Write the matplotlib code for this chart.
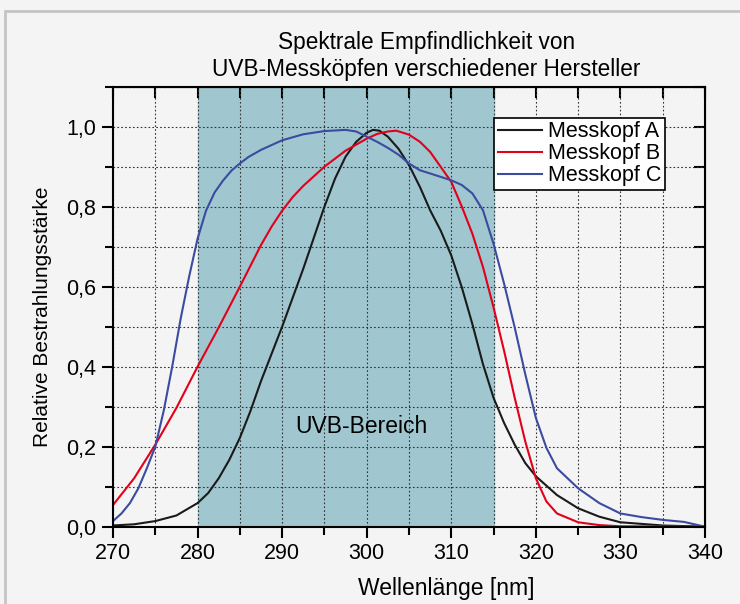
import numpy as np
import matplotlib.pyplot as plt
from matplotlib.ticker import MultipleLocator, FuncFormatter
from matplotlib.patches import Rectangle

plt.rcParams['font.family'] = ['Liberation Sans', 'DejaVu Sans']

# Messkopf A (schwarz)
wl_a = [270, 272.5, 275, 277.5, 280, 281.25, 282.5, 283.75, 285, 286.25, 287.5,
        290, 292.5, 295, 296.25, 297.5, 298.75, 300, 300.75, 301.5, 302.5, 303.75, 305,
        306.3, 307.5, 308.75, 310, 311.25, 312.5, 313.75, 315, 316.25, 317.5, 318.75,
        320, 322.5, 325, 327.5, 330, 335, 340]
kopf_a = [0.003, 0.006, 0.014, 0.028, 0.059, 0.084, 0.121, 0.167, 0.222, 0.289, 0.364,
          0.50, 0.645, 0.80, 0.87, 0.925, 0.962, 0.985, 0.992, 0.99, 0.975, 0.945, 0.904,
          0.849, 0.791, 0.74, 0.678, 0.598, 0.506, 0.406, 0.322, 0.259, 0.205, 0.159,
          0.126, 0.079, 0.046, 0.025, 0.011, 0.003, 0.0]

# Messkopf B (rot)
wl_b = [270, 272.5, 275, 277.5, 280, 282.5, 285, 287.5, 288.75, 290, 291.25, 292.5,
        295, 297.5, 300, 301.25, 302.5, 303.5, 305, 306.3, 307.5, 310, 311.25, 312.5,
        313.75, 315, 316.25, 317.5, 318.75, 320, 321.25, 322.5, 325, 327.5, 330, 340]
kopf_b = [0.054, 0.121, 0.205, 0.297, 0.40, 0.498, 0.60, 0.704, 0.75, 0.79, 0.824, 0.852,
          0.90, 0.94, 0.97, 0.982, 0.988, 0.99, 0.98, 0.962, 0.937, 0.862, 0.80, 0.732,
          0.649, 0.548, 0.439, 0.322, 0.213, 0.121, 0.063, 0.033, 0.011, 0.004, 0.001, 0.0]

# Messkopf C (blau)
wl_c = [270, 271, 272, 273, 274, 275, 276, 277, 278, 279, 280, 281, 282, 283, 284,
        285, 286, 287.5, 290, 292.5, 295, 297.5, 298.75, 300, 301.25, 302.5, 303.75, 305,
        306.3, 307.5, 310, 311.25, 312.5, 313.75, 315, 316.25, 317.5, 318.75, 320,
        321.25, 322.5, 325, 327.5, 330, 332.5, 335, 337.5, 340]
kopf_c = [0.014, 0.033, 0.059, 0.096, 0.146, 0.20, 0.29, 0.40, 0.52, 0.625, 0.72, 0.79,
          0.835, 0.865, 0.89, 0.908, 0.924, 0.942, 0.966, 0.981, 0.989, 0.992, 0.988, 0.975,
          0.962, 0.947, 0.93, 0.908, 0.891, 0.883, 0.866, 0.854, 0.833, 0.791, 0.707,
          0.607, 0.498, 0.381, 0.272, 0.197, 0.146, 0.096, 0.059, 0.033, 0.024, 0.017,
          0.012, 0.0]

uvb_start, uvb_end = 280, 315

bg = '#f3f4f3'
fig = plt.figure(figsize=(7.4, 6.04), dpi=100, facecolor=bg)
ax = fig.add_axes([0.1527, 0.128, 0.80, 0.7285], facecolor=bg)

# Rahmen
fig.patches.append(Rectangle((5 / 740, -0.1), 1.2, 1.1 - 11 / 604, transform=fig.transFigure,
                             fill=False, edgecolor='#c4c4c4', linewidth=2))

ax.axvspan(uvb_start, uvb_end, color='#a0c6cf', zorder=0)

ax.plot(wl_a, kopf_a, color='#1a1a1a', lw=1.5, label='Messkopf A', zorder=3)
ax.plot(wl_b, kopf_b, color='#e2001a', lw=1.5, label='Messkopf B', zorder=3)
ax.plot(wl_c, kopf_c, color='#3a4ba0', lw=1.5, label='Messkopf C', zorder=3)

ax.set_xlim(270, 340)
ax.set_ylim(0, 1.1)
ax.xaxis.set_major_locator(MultipleLocator(10))
ax.xaxis.set_minor_locator(MultipleLocator(5))
ax.yaxis.set_major_locator(MultipleLocator(0.2))
ax.yaxis.set_minor_locator(MultipleLocator(0.1))
ax.yaxis.set_major_formatter(FuncFormatter(lambda v, p: f'{v:.1f}'.replace('.', ',')))

ax.grid(which='both', color='#333333', linestyle=(0, (1.5, 2)), linewidth=0.8, zorder=1)
ax.set_axisbelow(True)
for s in ax.spines.values():
    s.set_linewidth(1.5)
    s.set_zorder(4)

ax.tick_params(which='major', direction='out', length=8, width=1.5, labelsize=15.5, pad=4)
ax.tick_params(which='minor', direction='out', length=6, width=1.5)

top = ax.secondary_xaxis('top')
top.xaxis.set_major_locator(MultipleLocator(5))
top.tick_params(direction='in', length=8, width=1.5, labeltop=False)
right = ax.secondary_yaxis('right')
right.yaxis.set_major_locator(MultipleLocator(0.1))
right.tick_params(direction='in', length=8, width=1.5, labelright=False)

ax.set_xlabel('Wellenlänge [nm]', fontsize=16.5, labelpad=9, x=0.563)
ax.set_ylabel('Relative Bestrahlungsstärke', fontsize=15, labelpad=10, y=0.477)
ax.set_title('Spektrale Empfindlichkeit von\nUVB-Messköpfen verschiedener Hersteller',
             fontsize=16.3, pad=8, x=0.529, linespacing=1.2)

ax.text(299.4, 0.25, 'UVB-Bereich', fontsize=16.5, ha='center', va='center', zorder=2)

leg = ax.legend(loc='upper right', bbox_to_anchor=(0.932, 0.929), fontsize=15.5, frameon=True,
                fancybox=False, framealpha=1, edgecolor='black', borderpad=0.15,
                labelspacing=0.05, handlelength=2.05, handletextpad=0.3, borderaxespad=0)
leg.get_frame().set_linewidth(1.2)
leg.set_zorder(5)

fig.savefig('out.png', dpi=100, facecolor=bg)
